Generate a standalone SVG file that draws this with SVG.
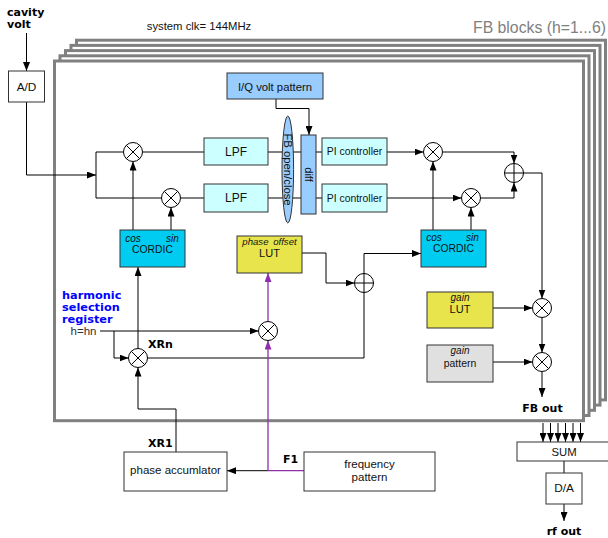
<svg xmlns="http://www.w3.org/2000/svg" xmlns:xlink="http://www.w3.org/1999/xlink" width="608" height="538" viewBox="0 0 608 538">
<style>
.frame{fill:#ffffff;stroke:#808080;stroke-width:3}
.ln{fill:none;stroke:#000;stroke-width:1}
.pl{fill:none;stroke:#8e2fae;stroke-width:1.3}
.box{stroke:#333;stroke-width:1}
.t{font-family:"Liberation Sans",Arial,sans-serif;fill:#111;text-anchor:middle}
.it{font-style:italic}
.b{font-family:"DejaVu Sans",Verdana,sans-serif;font-weight:bold;fill:#000}
.sym circle{fill:#fff;stroke:#000;stroke-width:1}
.sym line{stroke:#000;stroke-width:1}
</style>
<defs>
<marker id="ar" markerUnits="userSpaceOnUse" markerWidth="9" markerHeight="7" refX="9" refY="3.5" orient="auto"><path d="M0,0 L9,3.5 L0,7 z" fill="#000"/></marker>
<marker id="ap" markerUnits="userSpaceOnUse" markerWidth="9" markerHeight="7" refX="9" refY="3.5" orient="auto"><path d="M0,0 L9,3.5 L0,7 z" fill="#8e2fae"/></marker>
<g id="mix" class="sym"><circle r="9.5"/><line x1="-6.7" y1="-6.7" x2="6.7" y2="6.7"/><line x1="-6.7" y1="6.7" x2="6.7" y2="-6.7"/></g>
<g id="add" class="sym"><circle r="9.5"/><line x1="-9.5" y1="0" x2="9.5" y2="0"/><line x1="0" y1="-9.5" x2="0" y2="9.5"/></g>
</defs>
<rect width="608" height="538" fill="#fff"/>

<g id="frames">
<rect class="frame" x="76.5" y="40.2" width="529" height="359.7"/>
<rect class="frame" x="71" y="45.4" width="529" height="359.7"/>
<rect class="frame" x="65.5" y="50.6" width="529" height="359.7"/>
<rect class="frame" x="60" y="55.8" width="529" height="359.7"/>
<rect class="frame" x="54.5" y="61" width="529" height="359.7"/>
</g>

<g id="labels">
<text class="b" x="7" y="16" font-size="11">cavity</text>
<text class="b" x="7" y="27.5" font-size="11">volt</text>
<text class="t" x="199" y="30" font-size="11.3">system clk= 144MHz</text>
<text x="606" y="32.5" font-family="Liberation Sans,Arial,sans-serif" font-size="15.8" fill="#808080" text-anchor="end">FB blocks (h=1...6)</text>
<text class="b" x="62" y="299" font-size="11.3" style="fill:#0000ff">harmonic</text>
<text class="b" x="62" y="311" font-size="11.3" style="fill:#0000ff">selection</text>
<text class="b" x="62" y="322.5" font-size="11.3" style="fill:#0000ff">register</text>
<text class="t" x="83.5" y="335" font-size="11.5" style="fill:#333">h=hn</text>
<text class="b" x="148" y="348" font-size="11">XRn</text>
<text class="b" x="148" y="447" font-size="11">XR1</text>
<text class="b" x="283" y="463" font-size="11">F1</text>
<text class="b" x="542.5" y="412" font-size="11" text-anchor="middle">FB out</text>
<text class="b" x="564" y="535" font-size="11" text-anchor="middle">rf out</text>
</g>

<g id="connectors">
<path class="ln" d="M26.5,33 V71" marker-end="url(#ar)"/>
<path class="ln" d="M26.5,102 V175 H96" marker-end="url(#ar)"/>
<path class="ln" d="M96,152 V198 M96,152 H123.5 M96,198 H161.5"/>
<path class="ln" d="M142.5,152 H204 M180.5,198 H204"/>
<path class="ln" d="M268,152 H322 M268,198 H322"/>
<path class="ln" d="M387,152 H423.5" marker-end="url(#ar)"/>
<path class="ln" d="M387,198 H461.5" marker-end="url(#ar)"/>
<path class="ln" d="M442.5,152 H514 V163.5" marker-end="url(#ar)"/>
<path class="ln" d="M480.5,198 H514 V182.5" marker-end="url(#ar)"/>
<path class="ln" d="M523.5,173 H542 V298.5" marker-end="url(#ar)"/>
<path class="ln" d="M493,308 H532.5" marker-end="url(#ar)"/>
<path class="ln" d="M542,317.5 V352.5" marker-end="url(#ar)"/>
<path class="ln" d="M493,362 H532.5" marker-end="url(#ar)"/>
<path class="ln" d="M542,371.5 V397" marker-end="url(#ar)"/>
<path class="ln" d="M133,230 V161.5" marker-end="url(#ar)"/>
<path class="ln" d="M171,230 V207.5" marker-end="url(#ar)"/>
<path class="ln" d="M433,230 V161.5" marker-end="url(#ar)"/>
<path class="ln" d="M471,230 V207.5" marker-end="url(#ar)"/>
<path class="ln" d="M276,99 V108.5 H309 V135" marker-end="url(#ar)"/>
<path class="ln" d="M302,253 H326 V283 H354.5" marker-end="url(#ar)"/>
<path class="ln" d="M364,273.5 V253.5 H421" marker-end="url(#ar)"/>
<path class="ln" d="M147.5,358 H364 V292.5"/>
<path class="ln" d="M100,331 H258.5" marker-end="url(#ar)"/>
<path class="ln" d="M114,331 V358 H128.5" marker-end="url(#ar)"/>
<path class="ln" d="M138,348.5 V267" marker-end="url(#ar)"/>
<path class="ln" d="M176,452 V409 H138 V367.5" marker-end="url(#ar)"/>
<path class="pl" d="M304,470.7 H268"/>
<path class="ln" d="M268,470.7 H227" marker-end="url(#ar)"/>
<path class="pl" d="M268,470.7 V340.5" marker-end="url(#ap)"/>
<path class="pl" d="M268,321.5 V273" marker-end="url(#ap)"/>
<path class="ln" d="M543,423 V442" marker-end="url(#ar)"/>
<path class="ln" d="M550.5,423 V442" marker-end="url(#ar)"/>
<path class="ln" d="M558,423 V442" marker-end="url(#ar)"/>
<path class="ln" d="M565.5,423 V442" marker-end="url(#ar)"/>
<path class="ln" d="M573,423 V442" marker-end="url(#ar)"/>
<path class="ln" d="M580.5,423 V442" marker-end="url(#ar)"/>
<path class="ln" d="M564,461 V473"/>
<path class="ln" d="M564,504 V521" marker-end="url(#ar)"/>
</g>

<g id="ad"><rect class="box" x="8.5" y="71" width="36" height="31" fill="#fff"/><text class="t" x="26.5" y="90.7" font-size="11.8">A/D</text></g>
<g id="iq"><rect class="box" x="227" y="73" width="96" height="26" fill="#99ccff"/><text class="t" x="275" y="90.7" font-size="11.3">I/Q volt pattern</text></g>
<g id="lpf1"><rect class="box" x="204" y="138" width="64" height="27" fill="#ccffff"/><text class="t" x="236" y="156" font-size="12">LPF</text></g>
<g id="lpf2"><rect class="box" x="204" y="184" width="64" height="28" fill="#ccffff"/><text class="t" x="236" y="202.3" font-size="12">LPF</text></g>
<g id="fbsw"><ellipse class="box" cx="287.8" cy="169.5" rx="5.8" ry="53.5" fill="#99ccff"/><text class="t" transform="translate(287.8,169.5) rotate(90)" x="0" y="4" font-size="11.3">FB open/close</text></g>
<g id="diff"><rect class="box" x="301" y="135" width="15" height="79" fill="#99ccff"/><text class="t" transform="translate(308.5,174.5) rotate(90)" x="0" y="4" font-size="11">diff</text></g>
<g id="pi1"><rect class="box" x="322" y="138" width="65" height="27" fill="#ccffff"/><text class="t" x="354.5" y="155.3" font-size="10.4">PI controller</text></g>
<g id="pi2"><rect class="box" x="322" y="184" width="65" height="28" fill="#ccffff"/><text class="t" x="354.5" y="201.7" font-size="10.4">PI controller</text></g>
<g id="cordic1"><rect class="box" x="120" y="230" width="65" height="37" fill="#00ccf2"/><text class="t it" x="133" y="241.5" font-size="10">cos</text><text class="t it" x="172.5" y="241.5" font-size="10">sin</text><text class="t" x="152.5" y="252.7" font-size="10.4">CORDIC</text></g>
<g id="cordic2"><rect class="box" x="421" y="230" width="65" height="37" fill="#00ccf2"/><text class="t it" x="434" y="240.8" font-size="10">cos</text><text class="t it" x="472.5" y="240.8" font-size="10">sin</text><text class="t" x="453.5" y="251.8" font-size="10.4">CORDIC</text></g>
<g id="lut"><rect class="box" x="237" y="236" width="65" height="37" fill="#e8e44c"/><text class="t it" x="269.5" y="245" font-size="9.6" word-spacing="2">phase offset</text><text class="t" x="269.5" y="257" font-size="11">LUT</text></g>
<g id="gainlut"><rect class="box" x="427" y="292" width="66" height="36" fill="#e8e44c"/><text class="t it" x="460" y="300.7" font-size="10">gain</text><text class="t" x="460" y="312.7" font-size="11">LUT</text></g>
<g id="gainpat"><rect class="box" x="427" y="345" width="66" height="37" fill="#e0e0e0"/><text class="t it" x="460" y="354" font-size="10">gain</text><text class="t" x="460" y="367" font-size="10.4">pattern</text></g>
<g id="phacc"><rect class="box" x="124" y="452" width="103" height="39" fill="#fff"/><text class="t" x="175.5" y="474" font-size="11.5">phase accumlator</text></g>
<g id="freq"><rect class="box" x="304" y="452" width="131" height="39" fill="#fff"/><text class="t" x="369.5" y="467.7" font-size="11.5">frequency</text><text class="t" x="369.5" y="481.3" font-size="11.5">pattern</text></g>
<g id="sum"><rect class="box" x="517" y="442" width="95" height="19" fill="#fff"/><text class="t" x="564" y="455.7" font-size="11.3">SUM</text></g>
<g id="da"><rect class="box" x="546" y="473" width="36" height="31" fill="#fff"/><text class="t" x="564" y="492" font-size="11.8">D/A</text></g>

<g id="m1"><use xlink:href="#mix" x="133" y="152"/></g>
<g id="m2"><use xlink:href="#mix" x="171" y="198"/></g>
<g id="m3"><use xlink:href="#mix" x="433" y="152"/></g>
<g id="m4"><use xlink:href="#mix" x="471" y="198"/></g>
<g id="s1"><use xlink:href="#add" x="514" y="173"/></g>
<g id="s2"><use xlink:href="#add" x="364" y="283"/></g>
<g id="mxrn"><use xlink:href="#mix" x="138" y="358"/></g>
<g id="mh"><use xlink:href="#mix" x="268" y="331"/></g>
<g id="mg1"><use xlink:href="#mix" x="542" y="308"/></g>
<g id="mg2"><use xlink:href="#mix" x="542" y="362"/></g>
</svg>
